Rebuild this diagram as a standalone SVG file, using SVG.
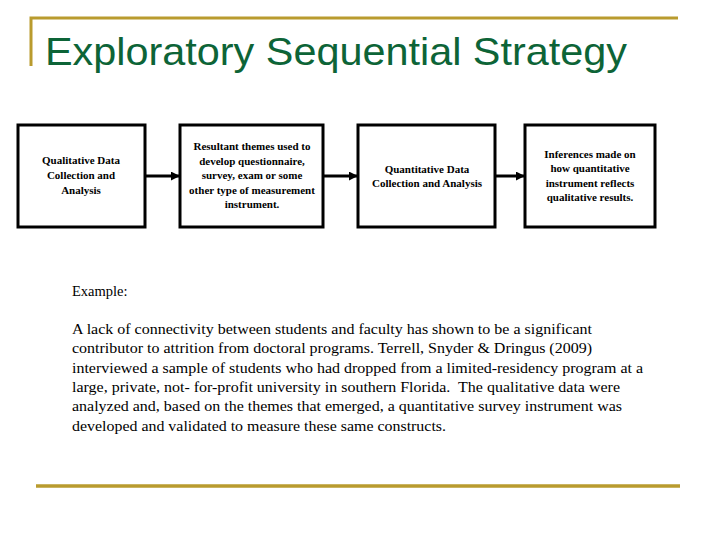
<svg xmlns="http://www.w3.org/2000/svg" width="720" height="540" viewBox="0 0 720 540">
<style>
.gold{stroke:#b99b2e;stroke-width:3;fill:none}
.title{font-family:"Liberation Sans",Arial,sans-serif;font-size:39px;fill:#0d6437}
.box{fill:#fff;stroke:#000;stroke-width:3}
.bt{font-family:"Liberation Serif","Times New Roman",serif;font-weight:bold;font-size:11px;fill:#000;text-anchor:middle}
.conn{stroke:#000;stroke-width:3;fill:none}
.body{font-family:"Liberation Serif","Times New Roman",serif;font-size:14.5px;fill:#000}
</style>
<defs>
<marker id="ah" viewBox="0 0 10 10" refX="9" refY="5" markerWidth="3" markerHeight="3" orient="auto" markerUnits="strokeWidth">
<path d="M0,0 L10,5 L0,10 z" fill="#000"/>
</marker>
</defs>
<rect width="720" height="540" fill="#fff"/>
<g id="frame">
<path class="gold" d="M31,66 V18 H678"/>
<path class="gold" d="M36,486 H680" style="stroke-width:3.5"/>
</g>
<text class="title" x="45" y="65" textLength="582" lengthAdjust="spacingAndGlyphs">Exploratory Sequential Strategy</text>
<g id="connectors">
<line class="conn" x1="145" y1="176" x2="179" y2="176" marker-end="url(#ah)"/>
<line class="conn" x1="323" y1="176" x2="357" y2="176" marker-end="url(#ah)"/>
<line class="conn" x1="495" y1="176" x2="524" y2="176" marker-end="url(#ah)"/>
</g>
<g id="n1">
<rect class="box" x="18" y="125" width="127" height="102"/>
<text class="bt" x="81" y="164">Qualitative Data</text>
<text class="bt" x="81" y="179">Collection and</text>
<text class="bt" x="81" y="194">Analysis</text>
</g>
<g id="n2">
<rect class="box" x="180" y="125" width="143" height="102"/>
<text class="bt" x="252" y="150">Resultant themes used to</text>
<text class="bt" x="252" y="165">develop questionnaire,</text>
<text class="bt" x="252" y="179">survey, exam or some</text>
<text class="bt" x="252" y="194">other type of measurement</text>
<text class="bt" x="252" y="208">instrument.</text>
</g>
<g id="n3">
<rect class="box" x="358" y="125" width="137" height="102"/>
<text class="bt" x="427" y="173">Quantitative Data</text>
<text class="bt" x="427" y="187">Collection and Analysis</text>
</g>
<g id="n4">
<rect class="box" x="525" y="125" width="130" height="102"/>
<text class="bt" x="590" y="158">Inferences made on</text>
<text class="bt" x="590" y="172">how quantitative</text>
<text class="bt" x="590" y="187">instrument reflects</text>
<text class="bt" x="590" y="201">qualitative results.</text>
</g>
<g id="example">
<text class="body" x="72" y="296">Example:</text>
<text class="body" x="72" y="334" textLength="520" lengthAdjust="spacingAndGlyphs">A lack of connectivity between students and faculty has shown to be a significant</text>
<text class="body" x="72" y="353" textLength="520" lengthAdjust="spacingAndGlyphs">contributor to attrition from doctoral programs. Terrell, Snyder &amp; Dringus (2009)</text>
<text class="body" x="72" y="373" textLength="571" lengthAdjust="spacingAndGlyphs">interviewed a sample of students who had dropped from a limited-residency program at a</text>
<text class="body" x="72" y="392" textLength="548" lengthAdjust="spacingAndGlyphs" xml:space="preserve">large, private, not- for-profit university in southern Florida.  The qualitative data were</text>
<text class="body" x="72" y="411" textLength="550" lengthAdjust="spacingAndGlyphs">analyzed and, based on the themes that emerged, a quantitative survey instrument was</text>
<text class="body" x="72" y="431" textLength="374" lengthAdjust="spacingAndGlyphs">developed and validated to measure these same constructs.</text>
</g>
</svg>
